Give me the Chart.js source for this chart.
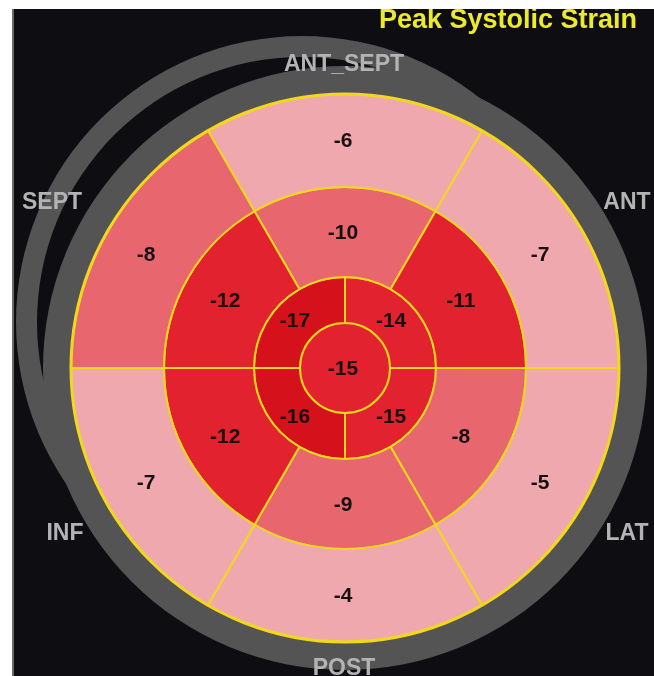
<!DOCTYPE html>
<html>
<head>
<meta charset="utf-8">
<title>Peak Systolic Strain</title>
<script src="https://cdn.jsdelivr.net/npm/chart.js@4.4.0/dist/chart.umd.min.js"></script>
<style>
  html, body { margin: 0; padding: 0; background: #fff; }
  #edge { position: absolute; left: 12px; top: 9px; width: 2px; height: 667px; background: #6a6a6a; }
  #panel { position: absolute; left: 14px; top: 9px; width: 640px; height: 667px; background: #0e0e12; }
</style>
</head>
<body>
<div id="edge"></div>
<div id="panel"><canvas id="bullseye" width="640" height="667"></canvas></div>
<script>
// walls, clockwise from the top
const wallLabels = ["ANT_SEPT", "ANT", "LAT", "POST", "INF", "SEPT"];
// peak systolic strain (%) per segment, clockwise from the top
const basalStrain = [-6, -7, -5, -4, -7, -8];
const midStrain = [-10, -11, -8, -9, -12, -12];
// apical ring starts at the upper-right quadrant
const apicalStrain = [-14, -15, -16, -17];
const apexStrain = [-15];

const yellow = "#f2d81c";

function strainColor(v) {
  if (v >= -7) return "#efa9ae";
  if (v >= -10) return "#e8676f";
  if (v >= -15) return "#e2232f";
  return "#d5121c";
}

const ring = (values, rotation, weight) => ({
  data: values.map(() => 1),
  strain: values,
  backgroundColor: values.map(strainColor),
  borderColor: yellow,
  borderWidth: 2,
  rotation: rotation,
  weight: weight,
});

const bullseyeDecor = {
  id: "bullseyeDecor",
  beforeDatasetsDraw(chart) {
    const ctx = chart.ctx;
    const c = chart.getDatasetMeta(0).data[0];
    // outer crescent of the grey frame (offset up-left)
    ctx.save();
    ctx.fillStyle = "#545454";
    ctx.beginPath();
    ctx.arc(c.x - 43, c.y - 46, 286, 0, Math.PI * 2);
    ctx.arc(c.x - 43, c.y - 46, 265, 0, Math.PI * 2, true);
    ctx.fill();
    ctx.restore();
  },
  afterDatasetsDraw(chart) {
    const ctx = chart.ctx;
    const basal = chart.getDatasetMeta(1).data[0];
    const cx = basal.x, cy = basal.y;
    ctx.save();
    ctx.strokeStyle = yellow;
    ctx.lineWidth = 3;
    ctx.beginPath();
    ctx.arc(cx, cy, basal.outerRadius, 0, Math.PI * 2);
    ctx.stroke();

    // segment values
    ctx.fillStyle = "#161010";
    ctx.font = "bold 21px 'Liberation Sans', Arial, sans-serif";
    ctx.textAlign = "center";
    ctx.textBaseline = "middle";
    chart.data.datasets.forEach((ds, i) => {
      if (!ds.strain) return;
      const meta = chart.getDatasetMeta(i);
      meta.data.forEach((arc, j) => {
        const p = ds.strain.length === 1 ? { x: cx, y: cy } : arc.tooltipPosition();
        ctx.fillText(String(ds.strain[j]), p.x - 2, p.y + 1);
      });
    });

    // wall names round the frame
    const wallPos = [[-1, -303], [282, -165], [282, 166], [-1, 301], [-280, 166], [-293, -165]];
    ctx.fillStyle = "#b3b3b3";
    ctx.font = "bold 23px 'Liberation Sans', Arial, sans-serif";
    wallLabels.forEach((name, i) => {
      ctx.fillText(name, cx + wallPos[i][0], cy + wallPos[i][1]);
    });

    // title
    ctx.fillStyle = "#ecea2a";
    ctx.font = "bold 27px 'Liberation Sans', Arial, sans-serif";
    ctx.textAlign = "right";
    ctx.fillText("Peak Systolic Strain", chart.width - 17, 12);
    ctx.restore();
  },
};

new Chart(document.getElementById("bullseye"), {
  type: "doughnut",
  data: {
    labels: wallLabels,
    datasets: [
      { data: [1], backgroundColor: "#545454", borderWidth: 0, weight: 28 },
      ring(basalStrain, -30, 93),
      ring(midStrain, -30, 90),
      ring(apicalStrain, 0, 46),
      Object.assign(ring(apexStrain, 0, 45), { borderWidth: 0 }),
    ],
  },
  options: {
    responsive: false,
    animation: false,
    events: [],
    cutout: 0,
    radius: 302,
    layout: { padding: { left: 22, top: 51, right: 0, bottom: 0 } },
    plugins: {
      legend: { display: false },
      tooltip: { enabled: false },
    },
  },
  plugins: [bullseyeDecor],
});
</script>
</body>
</html>
